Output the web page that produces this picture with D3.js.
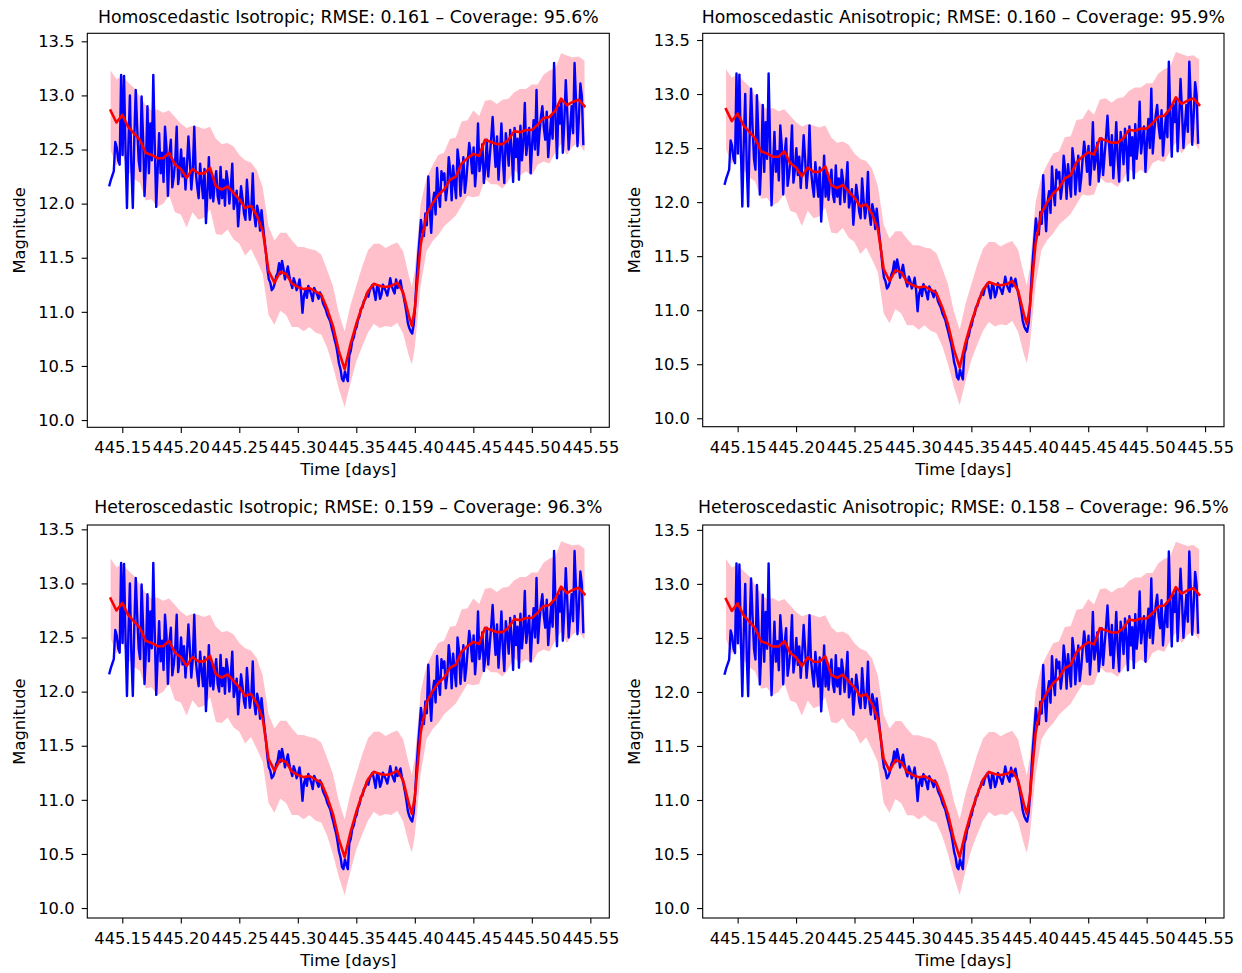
<!DOCTYPE html>
<html><head><meta charset="utf-8">
<script src="https://cdn.jsdelivr.net/npm/d3@7"></script>
<style>
body{margin:0;background:#fff}
text{font-family:"DejaVu Sans",sans-serif;fill:#000}
</style>
</head><body>
<svg id="c" width="1242" height="973"></svg>
<script>
// ---- data ----
const obsTime = [
445.139,445.14025,445.1415,445.14275,445.144,445.14525,445.1465,445.14775,
445.149,445.15025,445.1515,445.15275,445.154,445.15525,445.1565,445.15775,
445.159,445.16025,445.1615,445.16275,445.164,445.16525,445.1665,445.16775,
445.169,445.17025,445.1715,445.17275,445.174,445.17525,445.1765,445.17775,
445.179,445.18025,445.1815,445.18275,445.184,445.18525,445.1865,445.18775,
445.189,445.19025,445.1915,445.19275,445.194,445.19525,445.1965,445.19775,
445.199,445.20025,445.2015,445.20275,445.204,445.20525,445.2065,445.20775,
445.209,445.21025,445.2115,445.21275,445.214,445.21525,445.2165,445.21775,
445.219,445.22025,445.2215,445.22275,445.224,445.22525,445.2265,445.22775,
445.229,445.23025,445.2315,445.23275,445.234,445.23525,445.2365,445.23775,
445.239,445.24025,445.2415,445.24275,445.244,445.24525,445.2465,445.24775,
445.249,445.25025,445.2515,445.25275,445.254,445.25525,445.2565,445.25775,
445.259,445.26025,445.2615,445.26275,445.264,445.26525,445.2665,445.26775,
445.269,445.27025,445.2715,445.27275,445.274,445.27525,445.2765,445.27775,
445.279,445.28025,445.2815,445.28275,445.284,445.28525,445.2865,445.28775,
445.289,445.29025,445.2915,445.29275,445.294,445.29525,445.2965,445.29775,
445.299,445.30025,445.3015,445.30275,445.304,445.30525,445.3065,445.30775,
445.309,445.31025,445.3115,445.31275,445.314,445.31525,445.3165,445.31775,
445.319,445.32025,445.3215,445.32275,445.324,445.32525,445.3265,445.32775,
445.329,445.33025,445.3315,445.33275,445.334,445.33525,445.3365,445.33775,
445.339,445.34025,445.3415,445.34275,445.344,445.34525,445.3465,445.34775,
445.349,445.35025,445.3515,445.35275,445.354,445.35525,445.3565,445.35775,
445.359,445.36025,445.3615,445.36275,445.364,445.36525,445.3665,445.36775,
445.369,445.37025,445.3715,445.37275,445.374,445.37525,445.3765,445.37775,
445.379,445.38025,445.3815,445.38275,445.384,445.38525,445.3865,445.38775,
445.389,445.39025,445.3915,445.39275,445.394,445.39525,445.3965,445.39775,
445.399,445.40025,445.4015,445.40275,445.404,445.40525,445.4065,445.40775,
445.409,445.41025,445.4115,445.41275,445.414,445.41525,445.4165,445.41775,
445.419,445.42025,445.4215,445.42275,445.424,445.42525,445.4265,445.42775,
445.429,445.43025,445.4315,445.43275,445.434,445.43525,445.4365,445.43775,
445.439,445.44025,445.4415,445.44275,445.444,445.44525,445.4465,445.44775,
445.449,445.45025,445.4515,445.45275,445.454,445.45525,445.4565,445.45775,
445.459,445.46025,445.4615,445.46275,445.464,445.46525,445.4665,445.46775,
445.469,445.47025,445.4715,445.47275,445.474,445.47525,445.4765,445.47775,
445.479,445.48025,445.4815,445.48275,445.484,445.48525,445.4865,445.48775,
445.489,445.49025,445.4915,445.49275,445.494,445.49525,445.4965,445.49775,
445.499,445.50025,445.5015,445.50275,445.504,445.50525,445.5065,445.50775,
445.509,445.51025,445.5115,445.51275,445.514,445.51525,445.5165,445.51775,
445.519,445.52025,445.5215,445.52275,445.524,445.52525,445.5265,445.52775,
445.529,445.53025,445.5315,445.53275,445.534,445.53525,445.5365,445.53775,
445.539,445.54025,445.5415,445.54275,445.544
];
const obsMag = [
12.17,12.22,12.26,12.30,12.57,12.52,12.40,12.36,
13.19,12.45,13.18,12.50,11.96,12.55,13.00,12.35,
11.96,12.60,13.05,12.70,12.40,12.30,12.99,12.62,
12.07,12.38,12.90,12.28,12.74,12.40,13.19,12.55,
11.97,12.32,12.65,12.28,12.47,12.20,12.71,12.52,
12.07,12.45,12.59,12.15,12.25,12.40,12.71,12.18,
12.30,12.50,12.25,12.42,12.13,12.35,12.62,12.40,
12.13,12.30,12.71,12.30,12.16,12.05,12.37,12.20,
12.05,12.32,11.82,12.10,12.43,12.05,12.28,12.02,
12.19,12.30,12.07,12.00,12.34,12.05,12.22,11.98,
12.30,12.20,12.00,12.15,12.37,11.95,12.03,12.12,
11.79,11.98,12.16,12.05,11.91,11.85,12.22,12.02,
11.85,11.95,12.28,11.90,11.79,11.98,11.91,11.75,
11.94,11.80,11.67,11.55,11.40,11.30,11.27,11.20,
11.22,11.26,11.33,11.36,11.45,11.35,11.47,11.40,
11.30,11.36,11.42,11.33,11.27,11.22,11.31,11.27,
11.20,11.24,11.30,11.18,10.99,11.15,11.20,11.13,
11.24,11.20,11.16,11.10,11.22,11.19,11.16,11.12,
11.18,11.14,11.08,11.05,11.02,10.97,10.94,10.91,
10.85,10.80,10.74,10.69,10.61,10.52,10.47,10.38,
10.36,10.45,10.40,10.36,10.60,10.64,10.73,10.76,
10.83,10.86,10.93,10.96,11.03,11.04,11.10,11.12,
11.17,11.14,11.20,11.23,11.25,11.18,11.11,11.24,
11.22,11.12,11.16,11.25,11.22,11.19,11.15,11.22,
11.31,11.24,11.20,11.17,11.30,11.22,11.26,11.29,
11.21,11.15,11.08,11.00,10.90,10.85,10.82,10.80,
10.88,11.05,11.30,11.50,11.67,11.85,11.73,11.70,
11.91,11.80,12.25,11.95,11.73,12.00,12.10,11.90,
12.33,12.10,11.97,12.30,12.22,12.28,12.03,12.15,
12.43,12.30,12.03,12.35,12.19,12.05,12.50,12.38,
12.07,12.25,12.43,12.10,12.22,12.40,12.56,12.45,
12.28,12.52,12.16,12.35,12.74,12.30,12.40,12.55,
12.19,12.32,12.59,12.25,12.43,12.60,12.80,12.55,
12.34,12.62,12.22,12.45,12.74,12.40,12.19,12.65,
12.53,12.35,12.68,12.50,12.20,12.70,12.43,12.60,
12.22,12.72,12.40,12.55,12.93,12.45,12.59,12.70,
12.28,12.55,12.77,12.50,13.05,12.45,12.65,12.80,
12.90,12.70,12.59,12.85,12.43,12.62,12.80,12.60,
13.30,12.80,12.42,12.90,12.74,12.95,12.47,12.75,
13.14,12.85,12.50,12.70,12.90,12.65,13.30,12.95,
12.53,12.80,13.11,12.99,12.55
];
const predTime = [
445.140,445.145,445.150,445.155,445.160,445.165,445.170,445.175,445.180,445.185,
445.190,445.195,445.200,445.205,445.210,445.215,445.220,445.225,445.230,445.235,
445.240,445.245,445.250,445.255,445.260,445.265,445.270,445.275,445.280,445.285,
445.290,445.295,445.300,445.305,445.310,445.315,445.320,445.325,445.330,445.335,
445.340,445.345,445.350,445.355,445.360,445.365,445.370,445.375,445.380,445.385,
445.390,445.395,445.3975,445.400,445.405,445.410,445.415,445.420,445.425,445.430,445.435,
445.440,445.445,445.450,445.455,445.460,445.465,445.470,445.475,445.480,445.485,
445.490,445.495,445.500,445.505,445.510,445.515,445.520,445.525,445.530,445.535,
445.540,445.545
];
const predMean = [
12.86,12.75,12.82,12.71,12.65,12.59,12.47,12.45,12.42,12.42,
12.47,12.36,12.32,12.24,12.32,12.28,12.28,12.33,12.16,12.13,
12.16,12.10,12.04,11.96,11.98,11.89,11.75,11.38,11.27,11.37,
11.35,11.26,11.23,11.21,11.22,11.19,11.16,11.03,10.87,10.64,
10.47,10.70,10.89,11.05,11.19,11.26,11.24,11.23,11.24,11.27,
11.18,10.96,10.87,11.03,11.62,11.90,12.00,12.08,12.13,12.22,12.25,
12.37,12.42,12.46,12.44,12.59,12.57,12.55,12.55,12.59,12.67,
12.66,12.68,12.68,12.73,12.79,12.80,12.86,12.97,12.91,12.94,
12.96,12.90
];
const predHalfWidth = [
0.37,0.40,0.36,0.41,0.42,0.40,0.44,0.41,0.45,0.42,
0.39,0.44,0.42,0.46,0.40,0.43,0.41,0.38,0.44,0.42,
0.40,0.43,0.41,0.44,0.40,0.42,0.40,0.41,0.39,0.36,
0.38,0.40,0.37,0.39,0.36,0.38,0.37,0.36,0.37,0.35,
0.35,0.36,0.35,0.37,0.38,0.37,0.39,0.36,0.38,0.37,
0.38,0.37,0.36,0.36,0.38,0.34,0.35,0.37,0.34,0.38,0.36,
0.39,0.35,0.40,0.37,0.36,0.39,0.37,0.41,0.38,0.36,
0.40,0.38,0.42,0.37,0.40,0.43,0.39,0.42,0.46,0.41,
0.40,0.42
];
const panelTitles = [
  "Homoscedastic Isotropic; RMSE: 0.161 \u2013 Coverage: 95.6%",
  "Homoscedastic Anisotropic; RMSE: 0.160 \u2013 Coverage: 95.9%",
  "Heteroscedastic Isotropic; RMSE: 0.159 \u2013 Coverage: 96.3%",
  "Heteroscedastic Anisotropic; RMSE: 0.158 \u2013 Coverage: 96.5%"
];
const xTicks = [445.15,445.20,445.25,445.30,445.35,445.40,445.45,445.50,445.55];
const yTicks = [10.0,10.5,11.0,11.5,12.0,12.5,13.0,13.5];
const xLabel = "Time [days]";
const yLabel = "Magnitude";

// ---- layout ----
const xDomain = [445.1201, 445.5662];
const yDomains = [[9.933,13.574],[9.922,13.562],[9.908,13.540],[9.908,13.545]];
const layout = [
  {x:87.3, y:33.3, w:522, h:394},
  {x:702.7, y:33.3, w:521.3, h:393.4},
  {x:87.3, y:525, w:522, h:393},
  {x:702.7, y:525, w:521.3, h:393}
];
const titleBase = [22.7, 22.7, 512.6, 512.6];
const FS = 16.3;

const svg = d3.select('#c');
const pred = predTime.map((t,k)=>({t, m:predMean[k], h:predHalfWidth[k]}));
const obs = obsTime.map((t,k)=>({t, m:obsMag[k]}));

panelTitles.forEach((title,i)=>{
  const L = layout[i];
  const g = svg.append('g').attr('transform',`translate(${L.x},${L.y})`);
  const x = d3.scaleLinear().domain(xDomain).range([0,L.w]);
  const y = d3.scaleLinear().domain(yDomains[i]).range([L.h,0]);

  g.append('path').datum(pred)
    .attr('d', d3.area().x(d=>x(d.t)).y0(d=>y(d.m-d.h)).y1(d=>y(d.m+d.h)))
    .attr('fill','#ffc0cb');
  g.append('path').datum(obs)
    .attr('d', d3.line().x(d=>x(d.t)).y(d=>y(d.m)))
    .attr('fill','none').attr('stroke','#0000ff').attr('stroke-width',2.4)
    .attr('stroke-linejoin','round').attr('stroke-linecap','square');
  g.append('path').datum(pred)
    .attr('d', d3.line().x(d=>x(d.t)).y(d=>y(d.m)))
    .attr('fill','none').attr('stroke','#ff0000').attr('stroke-width',2.6)
    .attr('stroke-linejoin','round').attr('stroke-linecap','square');

  const xa = g.append('g').attr('transform',`translate(0,${L.h})`)
    .call(d3.axisBottom(x).tickValues(xTicks).tickFormat(d3.format('.2f')).tickSize(5.6).tickPadding(8.8));
  const ya = g.append('g')
    .call(d3.axisLeft(y).tickValues(yTicks).tickFormat(d3.format('.1f')).tickSize(5.6).tickPadding(7.2));
  [xa,ya].forEach(a=>{
    a.select('.domain').remove();
    a.selectAll('line').attr('stroke','#000').attr('stroke-width',1.1);
    a.selectAll('text').attr('font-size',FS).attr('font-family','DejaVu Sans').attr('fill','#000');
  });

  g.append('rect').attr('x',0).attr('y',0).attr('width',L.w).attr('height',L.h)
    .attr('fill','none').attr('stroke','#000').attr('stroke-width',1.1);

  svg.append('text').attr('x',L.x+L.w/2).attr('y',titleBase[i])
    .attr('text-anchor','middle').attr('font-size',17.3).text(title);
  svg.append('text').attr('x',L.x+L.w/2).attr('y',L.y+L.h+47.9)
    .attr('text-anchor','middle').attr('font-size',FS).text(xLabel);
  svg.append('text').attr('transform',`translate(${L.x-62.3},${L.y+L.h/2}) rotate(-90)`)
    .attr('text-anchor','middle').attr('font-size',FS).text(yLabel);
});
</script>
</body></html>
